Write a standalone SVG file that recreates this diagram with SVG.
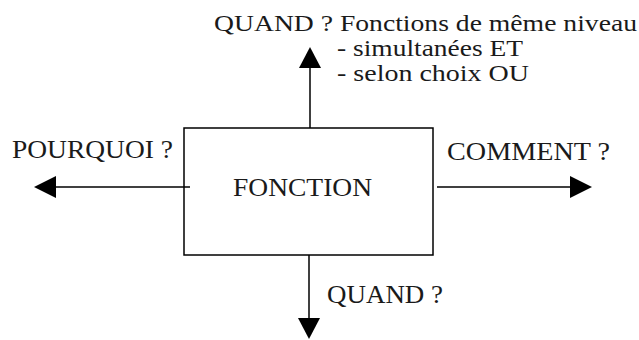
<svg xmlns="http://www.w3.org/2000/svg" width="639" height="340" viewBox="0 0 639 340">
<style>
text { font-family: "Liberation Serif", "Times New Roman", serif; font-size: 26px; fill: #1a1a1a; }
text.top { font-size: 22.5px; }
.ln { stroke: #000; stroke-width: 1.5; fill: none; }
.hd { fill: #000; stroke: none; }
</style>
<rect x="0" y="0" width="639" height="340" fill="#fff"/>
<g id="connectors">
  <line class="ln" x1="310" y1="128" x2="310" y2="66"/>
  <polygon class="hd" points="310,47 299,68 321,68"/>
  <line class="ln" x1="309" y1="255" x2="309" y2="320"/>
  <polygon class="hd" points="309,339 298,318 320,318"/>
  <line class="ln" x1="190" y1="187" x2="55" y2="187"/>
  <polygon class="hd" points="34,187 56,176 56,198"/>
  <line class="ln" x1="437" y1="187" x2="571" y2="187"/>
  <polygon class="hd" points="592,187 570,176 570,198"/>
</g>
<g id="fonction">
  <rect class="ln" x="184" y="128" width="249" height="127"/>
  <text x="233" y="196" textLength="139" lengthAdjust="spacingAndGlyphs">FONCTION</text>
</g>
<g id="quand-top">
  <text class="top" x="214" y="31" textLength="423" lengthAdjust="spacingAndGlyphs">QUAND ? Fonctions de même niveau</text>
  <text class="top" x="337" y="56" textLength="186" lengthAdjust="spacingAndGlyphs">- simultanées ET</text>
  <text class="top" x="337" y="81" textLength="192" lengthAdjust="spacingAndGlyphs">- selon choix OU</text>
</g>
<g id="pourquoi">
  <text x="12" y="158" textLength="161" lengthAdjust="spacingAndGlyphs">POURQUOI ?</text>
</g>
<g id="comment">
  <text x="447" y="160" textLength="163" lengthAdjust="spacingAndGlyphs">COMMENT ?</text>
</g>
<g id="quand-bottom">
  <text x="327" y="303" textLength="116" lengthAdjust="spacingAndGlyphs">QUAND ?</text>
</g>
</svg>
